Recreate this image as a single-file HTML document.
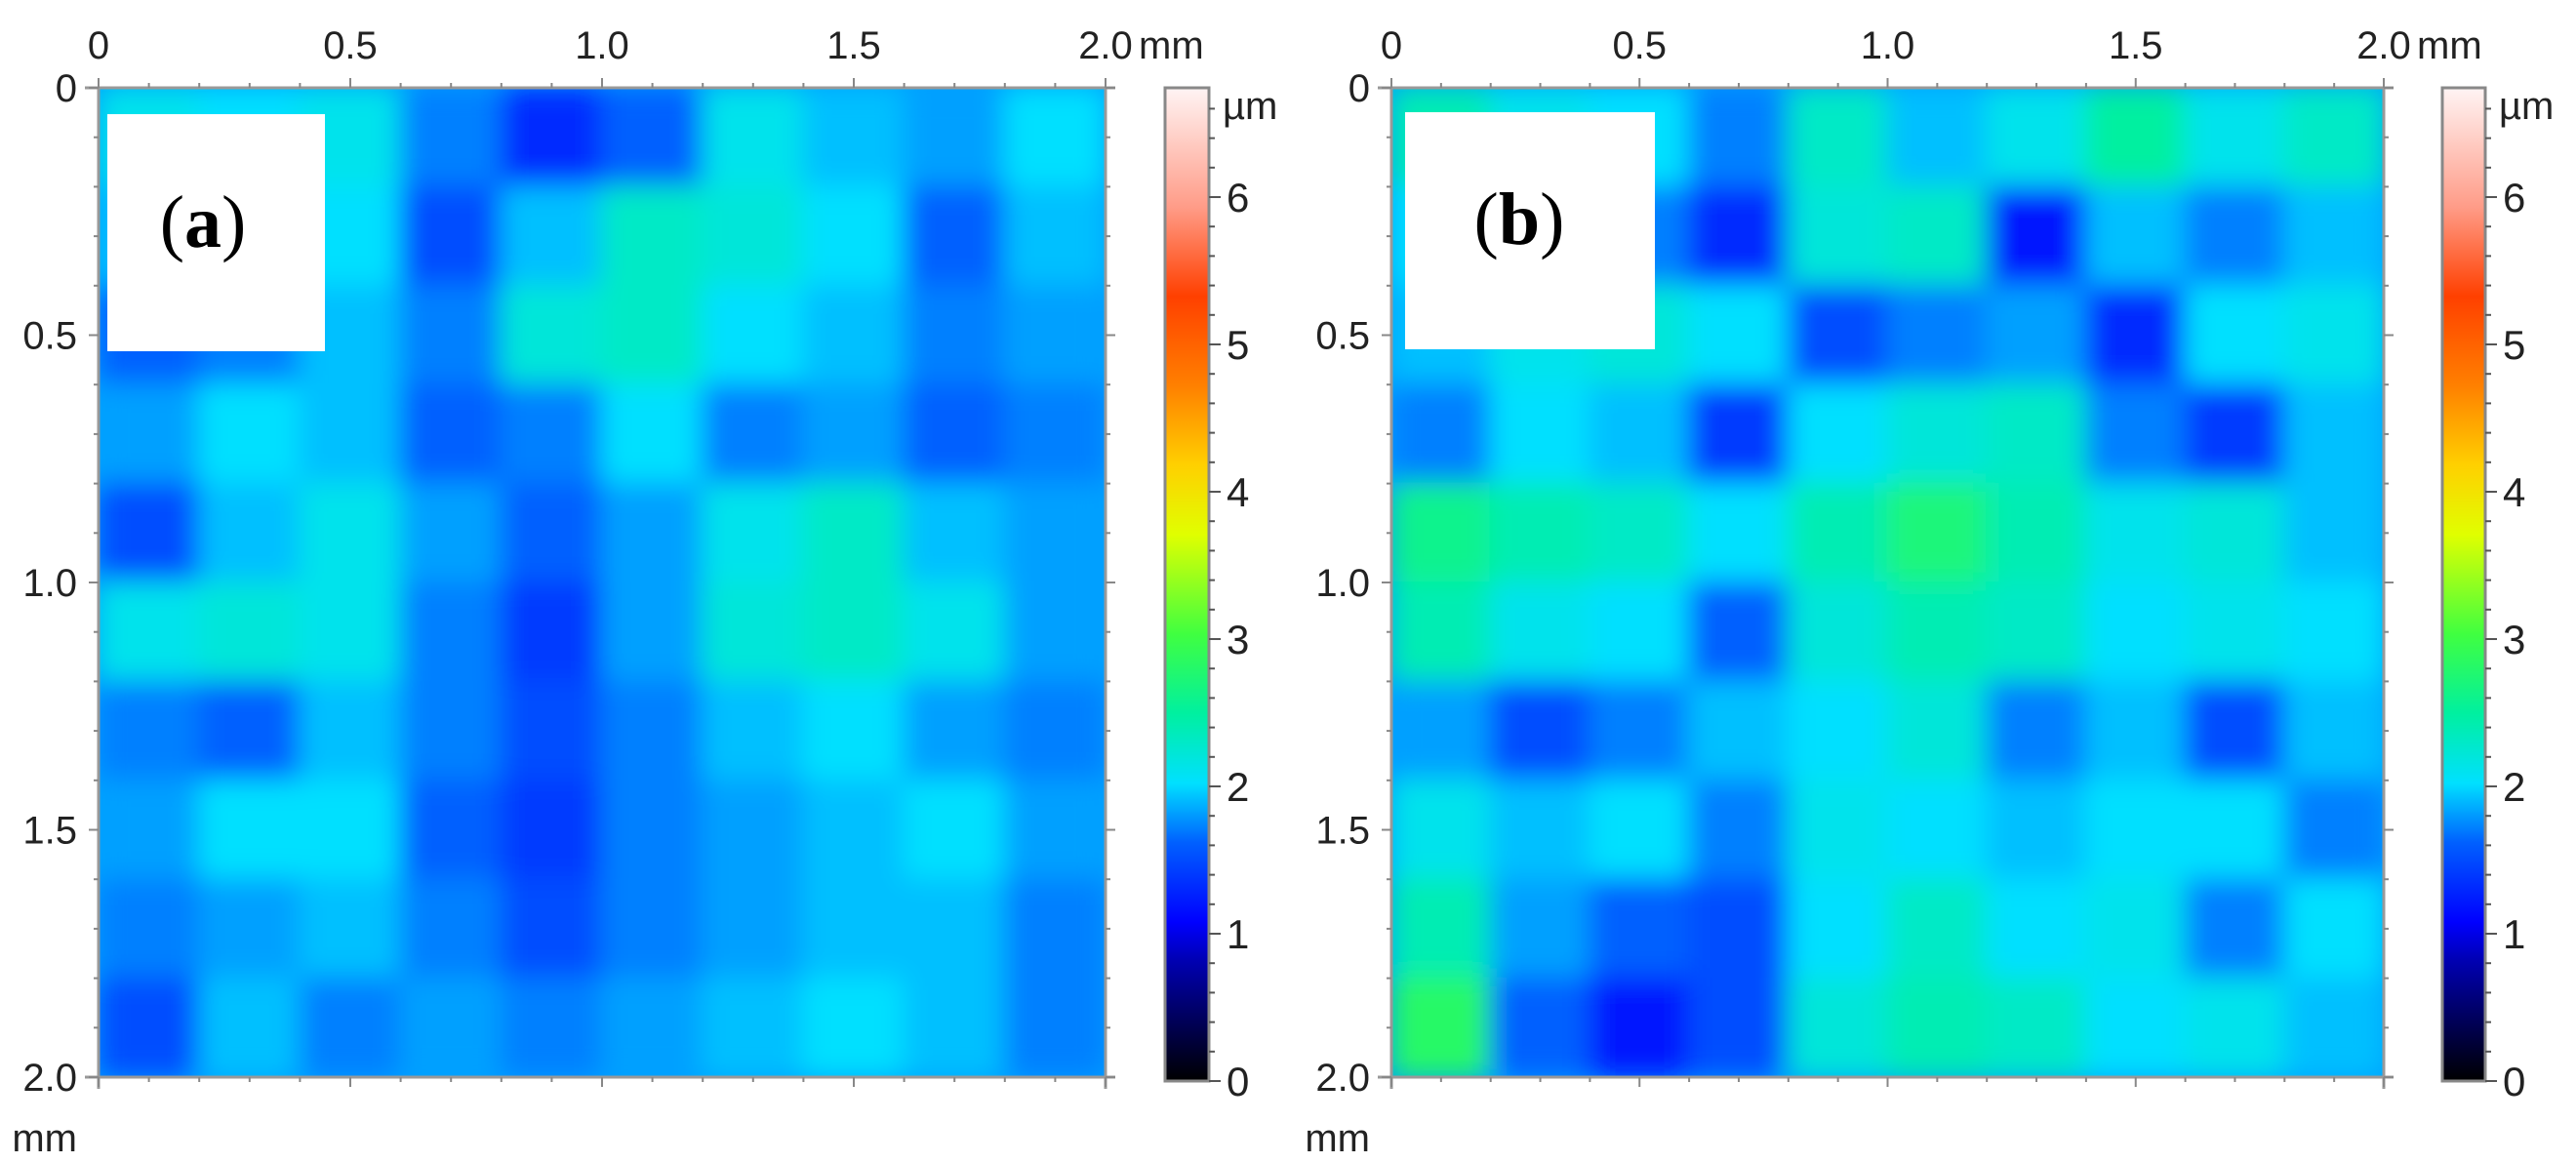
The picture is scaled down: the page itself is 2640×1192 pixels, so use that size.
<!DOCTYPE html>
<html><head><meta charset="utf-8">
<style>
html,body{margin:0;padding:0;background:#fff;}
body{width:2640px;height:1192px;overflow:hidden;position:relative;font-family:"Liberation Sans",sans-serif;}
svg{position:absolute;left:0;top:0;}
</style></head>
<body>
<svg id="fig" width="2640" height="1192" viewBox="0 0 2640 1192" xmlns="http://www.w3.org/2000/svg">
<defs>
<filter id="blur" x="-5%" y="-5%" width="110%" height="110%"><feGaussianBlur stdDeviation="14"/></filter>
<clipPath id="clipA"><rect x="101" y="90" width="1032" height="1014"/></clipPath>
<clipPath id="clipB"><rect x="1426" y="90" width="1017" height="1014"/></clipPath>
<linearGradient id="cmap" x1="0" y1="1" x2="0" y2="0">
<stop offset="0" stop-color="#000000"/>
<stop offset="0.12" stop-color="#0000b0"/>
<stop offset="0.16" stop-color="#0000ff"/>
<stop offset="0.24" stop-color="#0060ff"/>
<stop offset="0.30" stop-color="#00e0ff"/>
<stop offset="0.37" stop-color="#00f0a0"/>
<stop offset="0.45" stop-color="#40ff40"/>
<stop offset="0.55" stop-color="#e0ff00"/>
<stop offset="0.62" stop-color="#ffd000"/>
<stop offset="0.70" stop-color="#ff8000"/>
<stop offset="0.79" stop-color="#ff4000"/>
<stop offset="0.88" stop-color="#ff9c88"/>
<stop offset="1" stop-color="#fff4f4"/>
</linearGradient>
</defs>
<g id="heatA" clip-path="url(#clipA)"></g>
<g id="heatB" clip-path="url(#clipB)"></g>
<g id="axes"></g>

<rect x="110" y="117" width="223" height="243" fill="#fff"/>
<text x="208" y="253" font-family="Liberation Serif,serif" font-size="76" text-anchor="middle"><tspan>(</tspan><tspan font-weight="bold">a</tspan><tspan>)</tspan></text>
<rect x="1440" y="115" width="256" height="243" fill="#fff"/>
<text x="1557" y="250" font-family="Liberation Serif,serif" font-size="76" text-anchor="middle"><tspan>(</tspan><tspan font-weight="bold">b</tspan><tspan>)</tspan></text>
</svg>
<script>
// Coarse mean height estimates (µm), 10x10 grid, rows top->bottom
const heightA = [
[2.1,2.0,2.1,1.7,1.3,1.6,2.1,1.9,1.8,2.0],
[1.9,1.8,2.0,1.5,1.9,2.3,2.2,2.0,1.6,1.9],
[1.6,1.7,1.9,1.7,2.2,2.3,2.0,1.9,1.7,1.8],
[1.8,2.0,1.9,1.6,1.7,2.0,1.7,1.8,1.6,1.7],
[1.5,1.9,2.1,1.8,1.6,1.8,2.1,2.3,1.9,1.8],
[2.1,2.2,2.1,1.7,1.4,1.8,2.2,2.3,2.1,1.8],
[1.7,1.6,1.9,1.7,1.5,1.7,1.9,2.0,1.8,1.7],
[1.8,2.0,2.0,1.6,1.4,1.7,1.8,1.9,2.0,1.8],
[1.7,1.8,1.9,1.7,1.5,1.7,1.8,1.9,1.9,1.7],
[1.5,1.9,1.7,1.8,1.7,1.8,1.9,2.0,1.9,1.7]];
const heightB = [
[2.4,2.1,2.0,1.7,2.3,1.9,2.1,2.5,2.1,2.3],
[2.0,1.8,1.7,1.3,2.2,2.3,1.2,1.9,1.7,1.9],
[1.9,2.1,2.2,2.0,1.5,1.7,1.8,1.3,2.0,2.1],
[1.7,2.0,1.9,1.4,2.0,2.2,2.3,1.7,1.4,1.9],
[2.6,2.4,2.3,2.0,2.4,2.7,2.4,2.1,2.2,1.9],
[2.4,2.1,2.0,1.6,2.2,2.4,2.3,2.0,2.1,2.0],
[1.8,1.5,1.7,1.9,2.0,2.2,1.7,1.9,1.5,1.9],
[2.1,1.9,2.0,1.7,2.1,2.0,1.9,2.0,2.0,1.7],
[2.4,1.8,1.6,1.5,2.0,2.3,2.0,2.1,1.7,2.0],
[2.8,1.6,1.2,1.5,2.2,2.4,2.3,2.0,2.1,1.9]];
const axisTicks = [0,0.5,1.0,1.5,2.0];
const axisTickLabels = ["0","0.5","1.0","1.5","2.0"];
const cbarTicks = [0,1,2,3,4,5,6];

const NS="http://www.w3.org/2000/svg";
const stops=[[0,[0,0,0]],[0.8,[0,0,176]],[1.08,[0,0,255]],[1.6,[0,96,255]],[2.0,[0,224,255]],[2.5,[0,240,160]],[3.0,[64,255,64]],[3.7,[224,255,0]],[4.2,[255,208,0]],[4.7,[255,128,0]],[5.3,[255,64,0]],[5.9,[255,156,136]],[6.74,[255,244,244]]];
function cmap(v){
  for(let i=1;i<stops.length;i++){if(v<=stops[i][0]){const a=stops[i-1],b=stops[i];const t=(v-a[0])/(b[0]-a[0]);
    const c=a[1].map((x,k)=>Math.round(x+(b[1][k]-x)*t));return `rgb(${c[0]},${c[1]},${c[2]})`;}}
  return "rgb(255,244,244)";
}
function el(tag,attrs,parent){const e=document.createElementNS(NS,tag);for(const k in attrs)e.setAttribute(k,attrs[k]);parent.appendChild(e);return e;}

function drawHeat(gid,data,x0,y0,w,h){
  const g=document.getElementById(gid);
  el('rect',{x:x0,y:y0,width:w,height:h,fill:cmap(1.8)},g);
  const inner=el('g',{filter:'url(#blur)'},g);
  const n=data.length,m=data[0].length;
  const cw=w/m,ch=h/n;
  data.forEach((row,r)=>row.forEach((v,c)=>{
    const cell=el('rect',{x:x0+c*cw-1,y:y0+r*ch-1,width:cw+2,height:ch+2,fill:cmap(v)},inner);
    
    
  }));
}
drawHeat('heatA',heightA,101,90,1032,1014);
drawHeat('heatB',heightB,1426,90,1017,1014);

const axes=document.getElementById('axes');
function panelAxes(x0,x1,y0,y1,tag){
  const sx=v=>x0+(v/2)*(x1-x0), sy=v=>y0+(v/2)*(y1-y0);
  el('line',{x1:x0-14,y1:y0,x2:x1+10,y2:y0,stroke:'#999','stroke-width':3},axes);
  el('line',{x1:x0,y1:y0,x2:x0,y2:y1+12,stroke:'#999','stroke-width':3},axes);
  el('line',{x1:x1,y1:y0,x2:x1,y2:y1+12,stroke:'#999','stroke-width':3},axes);
  el('line',{x1:x0-14,y1:y1,x2:x1+10,y2:y1,stroke:'#999','stroke-width':3},axes);
  for(let i=0;i<=20;i++){const v=i*0.1,L=(i%5===0)?10:5;
    el('line',{x1:sx(v),y1:y0,x2:sx(v),y2:y0-L,stroke:'#888','stroke-width':2},axes);
    el('line',{x1:sx(v),y1:y1,x2:sx(v),y2:y1+L,stroke:'#888','stroke-width':2},axes);
    el('line',{x1:x0,y1:sy(v),x2:x0-L,y2:sy(v),stroke:'#888','stroke-width':2},axes);
    el('line',{x1:x1,y1:sy(v),x2:x1+L,y2:sy(v),stroke:'#888','stroke-width':2},axes);
  }
  axisTicks.forEach((v,i)=>{
    const t=el('text',{x:sx(v),y:60,'font-size':40,'text-anchor':'middle',fill:'#222'},axes);
    t.textContent=axisTickLabels[i];
    
    
    const u=el('text',{x:x0-22,y:sy(v)+14,'font-size':40,'text-anchor':'end',fill:'#222'},axes);
    u.textContent=axisTickLabels[i];
    
    
  });
  const xm=el('text',{x:sx(2)+34,y:60,'font-size':40,fill:'#222'},axes);xm.textContent='mm';
  
  
  const ym=el('text',{x:x0-22,y:1180,'font-size':40,'text-anchor':'end',fill:'#222'},axes);ym.textContent='mm';
  
  
}
panelAxes(101,1133,90,1104,'a');
panelAxes(1426,2443,90,1104,'b');

function colorbar(x0,w,tag){
  const top=90,bot=1108,scale=151;
  const r=el('rect',{x:x0,y:top,width:w,height:bot-top,fill:'url(#cmap)',stroke:'#888','stroke-width':3},axes);
  
  
  for(let i=0;i<=33;i++){const v=i*0.2,y=bot-v*scale;if(y<top)break;
    el('line',{x1:x0+w,y1:y,x2:x0+w+(i%5===0?12:6),y2:y,stroke:'#555','stroke-width':2},axes);}
  cbarTicks.forEach(v=>{
    const t=el('text',{x:x0+w+18,y:bot-v*scale+15,'font-size':42,fill:'#222'},axes);t.textContent=String(v);
    
    
  });
  const u=el('text',{x:x0+w+14,y:122,'font-size':40,fill:'#222'},axes);u.textContent='µm';
  
  
}
colorbar(1194,45,'a');
colorbar(2503,44,'b');
</script>
</body></html>
